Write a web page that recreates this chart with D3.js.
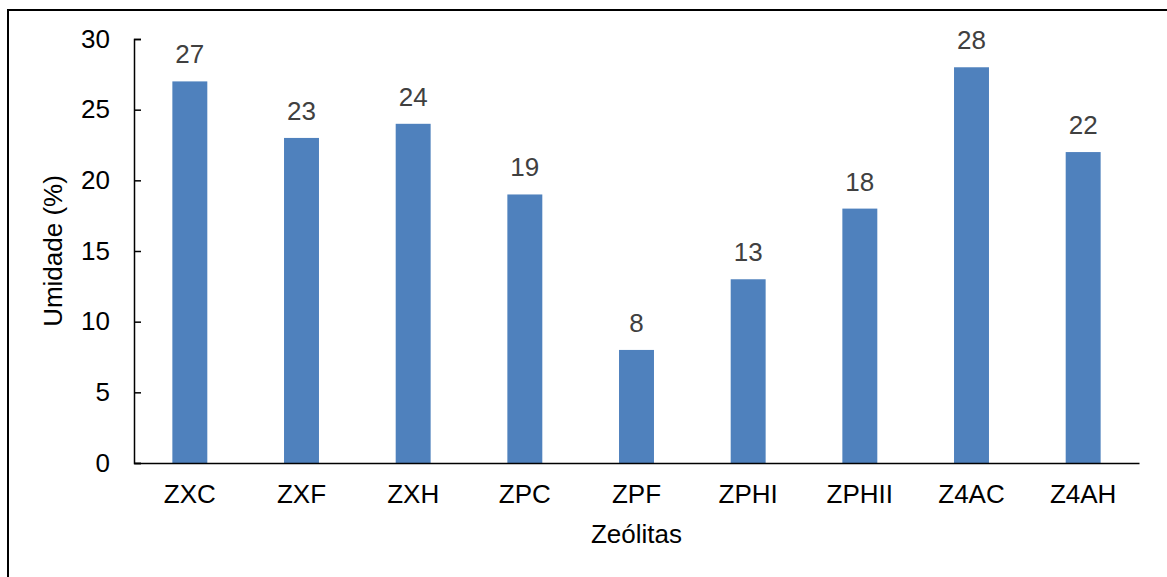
<!DOCTYPE html>
<html>
<head>
<meta charset="utf-8">
<script src="https://cdn.jsdelivr.net/npm/d3@7"></script>
<style>
  body { margin: 0; background: #fff; }
  svg { display: block; font-family: "Liberation Sans", Arial, sans-serif; }
</style>
</head>
<body>
<script>
// data
const categories = ["ZXC", "ZXF", "ZXH", "ZPC", "ZPF", "ZPHI", "ZPHII", "Z4AC", "Z4AH"];
const umidade = [27, 23, 24, 19, 8, 13, 18, 28, 22];
const yTicks = [0, 5, 10, 15, 20, 25, 30];

const W = 1167, H = 577;
const FS = 26;
const margin = {left: 134, right: 28, top: 39, bottom: 114};

const svg = d3.select("body").append("svg")
  .attr("width", W)
  .attr("height", H);

// outer frame (runs off the right and bottom edges)
svg.append("rect")
  .attr("x", 8).attr("y", 10)
  .attr("width", W + 20).attr("height", H + 20)
  .attr("fill", "none")
  .attr("stroke", "#000")
  .attr("stroke-width", 2);

const x = d3.scaleBand()
  .domain(categories)
  .range([margin.left, W - margin.right])
  .padding(0);

const y = d3.scaleLinear()
  .domain([0, 30])
  .range([H - margin.bottom, margin.top]);

const barW = x.bandwidth() * 0.313;

//bars
svg.append("g")
  .selectAll("rect")
  .data(umidade)
  .join("rect")
  .attr("x", (d, i) => x(categories[i]) + x.bandwidth() / 2 - barW / 2)
  .attr("y", d => y(d))
  .attr("width", barW)
  .attr("height", d => y(0) - y(d))
  .attr("fill", "#4f81bd");

//value labels
svg.append("g")
  .selectAll("text")
  .data(umidade)
  .join("text")
  .attr("x", (d, i) => x(categories[i]) + x.bandwidth() / 2)
  .attr("y", d => y(d) - 18)
  .attr("text-anchor", "middle")
  .attr("font-size", FS)
  .attr("fill", "#404040")
  .text(d => d);

//y axis, ticks point into the plot
const gy = svg.append("g")
  .attr("transform", `translate(${margin.left},0)`)
  .call(d3.axisLeft(y).tickValues(yTicks).tickSizeInner(-7).tickSizeOuter(-7).tickPadding(24));
gy.select(".domain").attr("stroke", "#000").attr("stroke-width", 1.5);
gy.selectAll(".tick line").attr("stroke", "#000").attr("stroke-width", 1.5);
gy.selectAll(".tick text")
  .attr("font-size", FS)
  .attr("fill", "#000")
  .attr("font-family", "Liberation Sans, Arial, sans-serif");

//x axis
const gx = svg.append("g")
  .attr("transform", `translate(0,${y(0)})`)
  .call(d3.axisBottom(x).tickSize(0).tickPadding(22));
gx.select(".domain").attr("stroke", "#000").attr("stroke-width", 1.5);
gx.selectAll(".tick text")
  .attr("font-size", FS)
  .attr("fill", "#000")
  .attr("font-family", "Liberation Sans, Arial, sans-serif");

//axis titles
svg.append("text")
  .attr("x", (margin.left + W - margin.right) / 2)
  .attr("y", 543)
  .attr("text-anchor", "middle")
  .attr("font-size", FS)
  .text("Zeólitas");

svg.append("text")
  .attr("transform", `translate(62,${(y(0) + y(30)) / 2}) rotate(-90)`)
  .attr("text-anchor", "middle")
  .attr("font-size", FS)
  .text("Umidade (%)");
</script>
</body>
</html>
